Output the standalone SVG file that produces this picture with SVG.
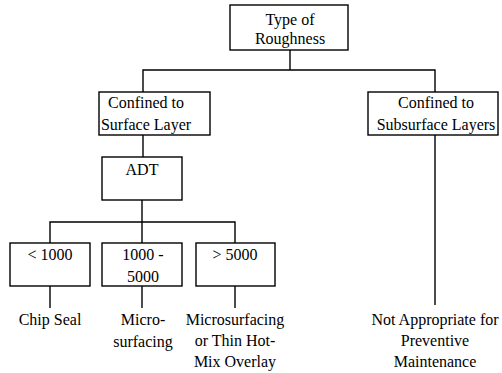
<svg xmlns="http://www.w3.org/2000/svg" width="502" height="373" viewBox="0 0 502 373">
<style>
.box{fill:#fff;stroke:#000;stroke-width:1.4}
line,path{stroke:#000;stroke-width:1.4;fill:none}
text{font-family:"Liberation Serif","Times New Roman",serif;font-size:16px;fill:#000;text-anchor:middle}
</style>
<rect width="502" height="373" fill="#fff"/>
<g id="connectors">
<line x1="290" y1="50" x2="290" y2="70"/>
<path d="M143 92 V70 H435 V92"/>
<line x1="143" y1="135" x2="143" y2="157"/>
<line x1="142" y1="200" x2="142" y2="222"/>
<path d="M50 243 V222 H235 V243"/>
<line x1="142" y1="222" x2="142" y2="243"/>
<line x1="50" y1="286" x2="50" y2="308"/>
<line x1="142" y1="286" x2="142" y2="308"/>
<line x1="235" y1="286" x2="235" y2="308"/>
<line x1="435" y1="135" x2="435" y2="305"/>
</g>
<g id="n-type"><rect class="box" x="230" y="5" width="118" height="45"/><text x="290" y="25">Type of</text><text x="290" y="44">Roughness</text></g>
<g id="n-surface"><rect class="box" x="99" y="92" width="111" height="43"/><text x="146" y="108">Confined to</text><text x="146" y="130">Surface Layer</text></g>
<g id="n-subsurface"><rect class="box" x="368" y="92" width="130" height="43"/><text x="436" y="108">Confined to</text><text x="436" y="130">Subsurface Layers</text></g>
<g id="n-adt"><rect class="box" x="102" y="157" width="80" height="43"/><text x="142" y="175">ADT</text></g>
<g id="n-lt1000"><rect class="box" x="10" y="243" width="80" height="43"/><text x="50" y="260">&lt; 1000</text></g>
<g id="n-mid"><rect class="box" x="102" y="243" width="80" height="43"/><text x="143" y="260">1000 -</text><text x="143" y="282">5000</text></g>
<g id="n-gt5000"><rect class="box" x="196" y="243" width="79" height="43"/><text x="235" y="260">&gt; 5000</text></g>
<g id="n-chip"><text x="50" y="325">Chip Seal</text></g>
<g id="n-micro"><text x="143" y="325">Micro-</text><text x="143" y="347">surfacing</text></g>
<g id="n-thin"><text x="235" y="325">Microsurfacing</text><text x="235" y="346">or Thin Hot-</text><text x="235" y="367">Mix Overlay</text></g>
<g id="n-notapp"><text x="435" y="325">Not Appropriate for</text><text x="435" y="346">Preventive</text><text x="435" y="367">Maintenance</text></g>
</svg>
